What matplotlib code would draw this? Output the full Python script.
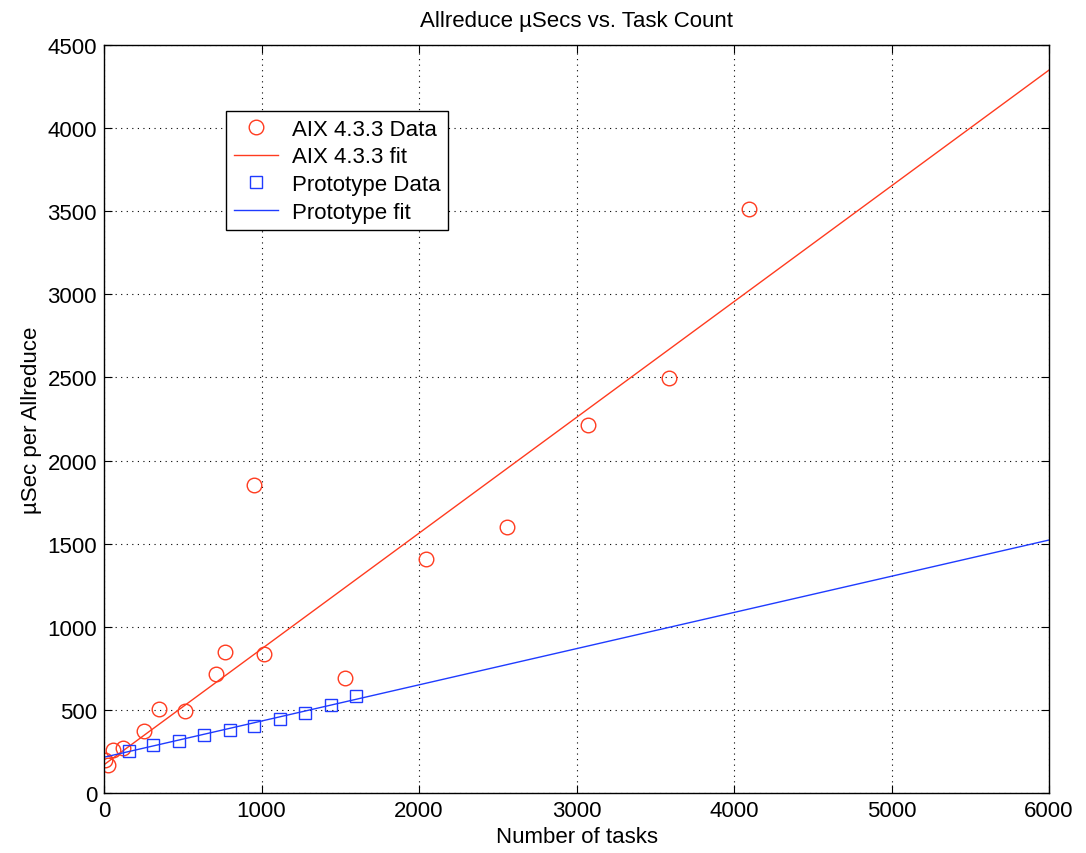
import numpy as np
import matplotlib
matplotlib.use("Agg")
import matplotlib.pyplot as plt

plt.rcParams['font.family'] = ['Liberation Sans', 'DejaVu Sans']

# AIX 4.3.3 measured data
aix_tasks = [8, 24, 56, 120, 256, 352, 512, 712, 768, 952, 1016, 1528, 2044, 2560, 3072, 3584, 4096]
aix_usec = [200, 170, 259, 269, 375, 505, 495, 716, 846, 1853, 836, 692, 1408, 1600, 2214, 2497, 3514]

# Prototype measured data
proto_tasks = [156, 314, 476, 637, 800, 955, 1117, 1276, 1439, 1597]
proto_usec = [255, 291, 315, 351, 379, 400, 445, 479, 531, 585]

# fitted lines (endpoints)
fit_x = [0, 6000]
aix_fit = [170, 4350]
proto_fit = [215, 1522]

red = '#ff3b1f'
blue = '#1f3bff'

fig = plt.figure(figsize=(10.86, 8.54), dpi=100)
ax = fig.add_axes([0.0958, 0.0703, 0.8702, 0.8757])

ax.plot(aix_tasks, aix_usec, 'o', mfc='none', mec=red, ms=10.5, mew=1.0, label='AIX 4.3.3 Data')
ax.plot(fit_x, aix_fit, '-', color=red, lw=1.0, label='AIX 4.3.3 fit')
ax.plot(proto_tasks, proto_usec, 's', mfc='none', mec=blue, ms=9, mew=1.0, label='Prototype Data')
ax.plot(fit_x, proto_fit, '-', color=blue, lw=1.0, label='Prototype fit')

ax.set_xlim(0, 6000)
ax.set_ylim(0, 4500)
ax.set_xticks(np.arange(0, 6001, 1000))
ax.set_yticks(np.arange(0, 4501, 500))
ax.grid(True, color='black', linestyle=(0, (1, 4)), linewidth=0.8)
ax.tick_params(direction='in', length=6, labelsize=16, top=True, right=True, pad=5)
for s in ax.spines.values():
    s.set_linewidth(1.0)

ax.set_xlabel('Number of tasks', fontsize=16, labelpad=4)
ax.set_ylabel('µSec per Allreduce', fontsize=16, labelpad=4)
ax.set_title('Allreduce µSecs vs. Task Count', fontsize=16, pad=14)

leg = ax.legend(loc='upper left', bbox_to_anchor=(0.129, 0.912), fontsize=16,
                frameon=True, fancybox=False, edgecolor='black', framealpha=1,
                handlelength=2.0, handletextpad=0.6, borderpad=0.35,
                labelspacing=0.3, borderaxespad=0)
leg.get_frame().set_linewidth(1.0)

fig.savefig('out.png', dpi=100)
